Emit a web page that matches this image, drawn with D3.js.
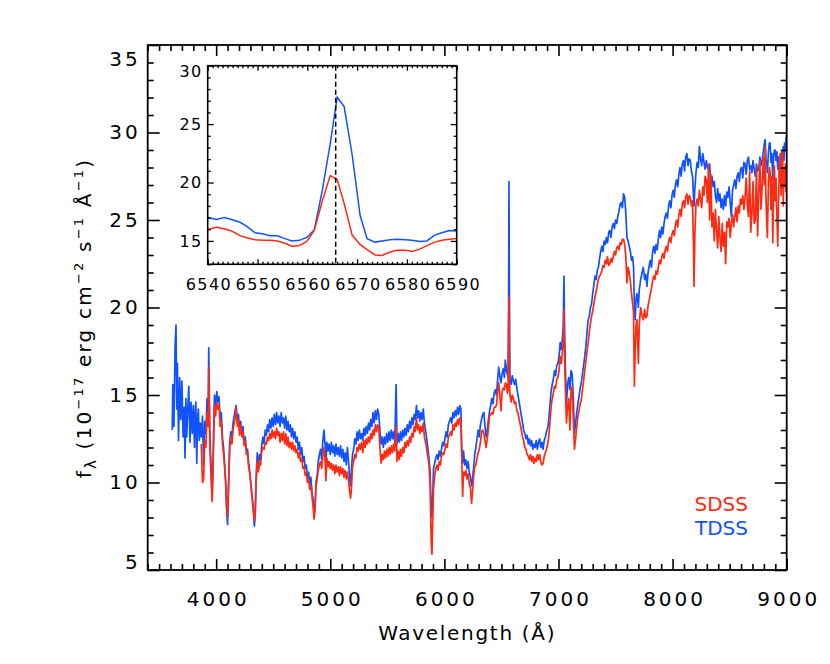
<!DOCTYPE html>
<html>
<head>
<meta charset="utf-8">
<script src="https://cdn.jsdelivr.net/npm/d3@7"></script>
<style>
  body { margin: 0; background: #fff; }
  svg text { font-family: "DejaVu Sans", sans-serif; fill: #000; }
</style>
</head>
<body>
<div id="chart"></div>
<script>
// Wavelength grid (Angstrom) shared by both spectra
const wave = [
  3615,3620,3630,3640,3648,3655,3660,3670,3680,3690,
  3700,3710,3720,3727,3735,3742,3750,3760,3770,3780,
  3790,3800,3810,3815,3822,3830,3837,3844,3852,3860,
  3870,3880,3890,3900,3910,3920,3930,3935,3945,3955,
  3965,3975,3985,3995,4005,4015,4025,4035,4045,4055,
  4065,4075,4085,4092,4100,4108,4118,4128,4138,4148,
  4158,4168,4175,4185,4195,4205,4215,4225,4235,4245,
  4255,4265,4275,4285,4295,4305,4315,4325,4335,4342,
  4350,4360,4370,4380,4390,4400,4410,4420,4430,4440,
  4450,4460,4470,4480,4490,4500,4510,4520,4530,4540,
  4550,4560,4570,4580,4590,4600,4610,4620,4630,4640,
  4650,4660,4670,4680,4690,4700,4710,4720,4730,4740,
  4750,4760,4770,4780,4790,4800,4810,4820,4830,4840,
  4850,4858,4866,4875,4885,4895,4905,4915,4925,4935,
  4945,4955,4962,4970,4980,4990,5000,5010,5020,5030,
  5040,5050,5060,5070,5080,5090,5100,5110,5120,5130,
  5140,5150,5160,5168,5178,5186,5195,5205,5215,5225,
  5235,5245,5255,5265,5275,5285,5295,5305,5315,5325,
  5335,5345,5355,5365,5375,5385,5395,5405,5415,5425,
  5435,5445,5455,5465,5475,5485,5495,5505,5515,5525,
  5535,5545,5555,5565,5577,5585,5595,5605,5615,5625,
  5635,5645,5655,5665,5675,5685,5695,5705,5715,5725,
  5735,5745,5755,5765,5775,5785,5795,5805,5815,5825,
  5835,5845,5855,5865,5875,5885,5891,5897,5905,5915,
  5925,5935,5945,5955,5965,5975,5985,5995,6005,6015,
  6025,6035,6045,6055,6065,6075,6085,6095,6105,6115,
  6125,6135,6145,6152,6160,6168,6178,6188,6198,6208,
  6218,6228,6238,6246,6256,6266,6276,6286,6296,6306,
  6316,6326,6336,6346,6356,6366,6376,6386,6396,6406,
  6416,6426,6436,6446,6456,6466,6476,6486,6496,6506,
  6516,6526,6534,6544,6552,6558,6563,6566,6569,6575,
  6585,6595,6605,6615,6625,6635,6645,6655,6665,6675,
  6685,6695,6705,6715,6725,6735,6745,6755,6765,6775,
  6785,6795,6805,6815,6825,6835,6845,6855,6865,6875,
  6885,6895,6905,6915,6925,6935,6945,6955,6965,6975,
  6985,6995,7005,7015,7025,7035,7042,7048,7054,7062,
  7070,7080,7090,7100,7110,7120,7130,7140,7150,7160,
  7170,7180,7190,7200,7210,7220,7230,7240,7250,7260,
  7270,7280,7290,7300,7310,7320,7330,7340,7350,7360,
  7370,7380,7390,7400,7410,7420,7430,7440,7450,7460,
  7470,7480,7490,7500,7510,7520,7530,7540,7550,7560,
  7570,7580,7590,7600,7610,7620,7630,7640,7650,7658,
  7665,7672,7680,7688,7695,7700,7708,7720,7730,7743,
  7755,7765,7775,7785,7795,7805,7815,7825,7835,7845,
  7855,7865,7875,7885,7895,7905,7915,7925,7935,7945,
  7955,7965,7975,7985,7995,8005,8015,8025,8035,8045,
  8055,8065,8075,8085,8095,8105,8115,8125,8135,8145,
  8155,8165,8175,8183,8188,8195,8205,8215,8225,8235,
  8245,8255,8265,8275,8285,8295,8305,8315,8325,8335,
  8345,8355,8365,8375,8385,8395,8405,8415,8425,8435,
  8445,8455,8465,8475,8485,8495,8505,8515,8525,8535,
  8545,8555,8565,8575,8585,8595,8605,8615,8625,8635,
  8645,8655,8665,8675,8685,8695,8705,8715,8725,8735,
  8745,8755,8765,8775,8785,8795,8805,8811,8818,8825,
  8831,8840,8848,8855,8862,8870,8878,8885,8892,8899,
  8906,8914,8922,8930,8937,8943,8950,8957,8964,8970,
  8976,8981,8988,8994,9000
];

// TDSS flux, 1e-17 erg/cm2/s/A
const tdssFlux = [
  13.0,15.6,13.2,17.8,19.0,14.2,16.8,12.4,16.0,13.6,
  15.8,12.6,14.3,11.4,14.8,12.6,14.0,15.5,12.3,14.6,
  12.8,14.4,12.0,13.8,14.6,11.1,13.6,14.2,12.4,13.4,
  12.6,13.8,11.0,13.5,12.8,14.8,13.6,17.7,12.5,11.0,
  9.0,12.0,15.0,14.3,15.2,14.6,14.9,13.6,14.0,12.6,
  12.0,11.0,9.8,8.4,7.6,9.6,12.2,12.9,12.6,13.4,
  13.8,14.2,14.4,13.5,13.9,13.0,13.5,12.8,13.2,12.3,
  12.6,11.8,11.9,11.0,10.6,9.8,9.2,8.6,7.5,8.2,
  10.2,11.7,10.8,11.6,11.3,12.2,12.6,12.2,13.0,12.7,
  13.3,12.9,13.6,13.1,13.7,13.2,13.9,13.3,14.0,13.4,
  13.8,13.2,14.0,13.4,13.7,13.1,13.8,13.0,13.5,12.9,
  13.3,12.6,13.1,12.5,12.9,12.3,12.6,11.9,12.3,11.6,
  12.0,11.2,11.5,10.8,11.0,10.3,10.6,9.9,10.3,9.4,
  9.0,8.2,8.6,10.0,10.4,11.2,11.6,11.9,11.3,12.4,
  13.0,12.1,11.0,12.3,11.8,12.2,11.6,12.3,11.7,12.1,
  11.5,12.2,11.6,12.0,11.5,12.1,11.4,11.9,11.2,11.7,
  11.0,12.0,11.2,10.4,9.8,10.8,11.6,11.9,12.5,12.2,
  12.9,12.4,13.0,12.5,12.8,12.4,13.1,12.7,13.2,12.8,
  13.4,13.0,13.6,13.2,14.0,13.4,14.1,13.6,14.2,13.9,
  13.0,12.2,12.6,12.0,12.6,12.2,12.8,12.3,12.9,12.4,
  13.0,12.5,12.9,12.3,15.6,12.2,12.8,12.3,12.9,12.4,
  13.0,12.6,13.1,12.7,13.3,12.9,13.5,13.1,13.7,13.3,
  13.9,13.6,14.4,13.7,14.1,13.5,14.0,13.6,14.2,13.4,
  13.0,12.5,12.0,11.4,10.6,8.4,8.0,9.0,10.8,11.1,
  11.4,11.6,11.3,11.8,11.5,11.9,12.3,12.1,12.5,12.9,
  12.6,13.3,13.5,13.7,13.4,14.0,13.7,14.1,13.8,14.3,
  13.9,14.4,14.2,12.0,11.1,11.8,11.0,11.3,10.8,11.2,
  10.6,10.3,9.8,10.2,10.8,11.6,12.0,12.5,13.0,12.6,
  13.3,13.6,13.9,14.0,13.2,12.6,13.0,13.6,14.1,14.4,
  14.8,14.5,15.1,15.3,15.0,15.8,16.6,16.1,15.7,16.2,
  16.5,16.0,17.0,16.4,16.2,16.0,20.0,27.2,22.0,15.9,
  15.6,16.1,15.8,15.6,15.9,15.4,15.0,14.6,14.2,13.8,
  13.4,13.0,12.8,12.5,12.7,12.2,12.5,12.1,12.4,11.9,
  12.2,12.0,12.4,11.9,12.3,12.5,12.0,12.3,11.9,12.4,
  12.6,12.9,13.1,13.6,14.4,15.2,15.6,15.9,16.4,16.1,
  16.7,16.8,17.2,18.0,17.6,18.3,19.0,21.8,18.5,16.2,
  14.5,15.6,16.0,15.3,16.4,16.2,14.8,12.8,13.4,14.0,
  14.5,14.9,15.4,15.7,16.2,16.7,17.2,17.8,18.6,19.3,
  19.5,20.0,20.2,20.8,21.3,21.8,21.6,22.1,22.3,22.8,
  23.2,23.5,23.2,23.8,23.6,24.0,23.7,24.3,24.4,24.0,
  24.6,24.8,24.5,25.0,24.8,25.2,25.5,25.9,26.0,25.7,
  26.5,26.3,25.4,24.0,23.8,23.5,23.2,22.7,22.9,22.3,
  20.0,19.3,20.5,20.8,20.4,20.0,21.0,21.6,21.9,22.3,
  21.6,21.9,21.2,22.0,22.4,22.7,22.3,23.2,23.5,23.1,
  23.6,23.3,23.9,24.4,24.0,24.6,24.2,24.8,25.2,25.4,
  25.1,25.8,26.1,25.7,26.4,26.7,26.3,27.0,27.3,26.9,
  27.6,28.0,27.5,28.2,28.4,27.8,28.6,28.8,28.1,28.5,
  28.4,27.8,27.5,26.4,25.8,26.8,27.7,28.3,28.0,29.2,
  28.5,28.1,28.8,28.3,27.9,28.4,28.0,27.9,28.2,27.0,
  27.5,26.9,27.2,26.4,26.0,26.8,26.1,26.5,25.7,26.2,
  25.6,26.4,25.8,26.6,26.3,26.9,26.0,25.2,26.7,27.0,
  27.3,26.8,27.5,27.7,27.2,27.9,28.0,27.4,28.3,28.2,
  27.6,28.4,28.6,27.9,28.1,27.7,28.4,27.9,27.5,28.2,
  27.8,27.9,28.6,28.1,28.4,28.9,29.4,29.6,28.5,28.2,
  27.7,28.9,29.4,29.4,28.3,28.8,27.3,28.6,29.0,29.0,
  28.4,28.9,27.9,28.6,27.5,27.5,28.3,28.9,28.8,29.2,
  28.4,29.4,29.0,29.6,29.9
];

// SDSS flux (no coverage below ~3865 A)
const sdssFlux = [
  null,null,null,null,null,null,null,null,null,null,
  null,null,null,null,null,null,null,null,null,null,
  null,null,null,null,null,null,null,null,null,null,
  12.2,10.0,10.2,12.4,12.0,14.0,13.2,16.6,12.0,10.4,
  8.9,11.6,14.4,13.8,14.6,14.2,14.4,13.2,13.5,12.2,
  11.6,10.8,9.8,8.6,8.0,9.8,11.8,12.6,12.2,13.0,
  13.4,13.8,14.3,13.2,13.6,12.7,13.3,12.6,12.9,12.1,
  12.4,11.6,11.7,10.9,10.5,9.9,9.1,8.4,7.8,8.2,
  10.0,11.3,10.6,11.1,11.0,11.8,12.0,11.9,12.3,12.2,
  12.6,12.4,12.8,12.5,13.0,12.6,12.9,12.5,13.1,12.7,
  12.9,12.3,12.8,12.4,12.9,12.2,12.8,12.1,12.6,12.0,
  12.3,11.9,12.3,11.8,12.1,11.7,11.9,11.4,11.7,11.2,
  11.4,10.8,10.9,10.4,10.6,10.0,10.2,9.6,9.8,9.2,
  8.6,7.9,8.4,9.8,10.2,10.7,11.0,11.2,10.8,11.5,
  12.0,11.3,10.1,11.4,10.9,11.2,10.8,11.1,10.7,11.0,
  10.5,11.0,10.6,10.9,10.4,10.9,10.5,10.8,10.3,10.7,
  10.2,10.6,10.1,9.6,9.1,9.7,10.9,11.2,11.6,11.4,
  12.0,11.8,12.2,11.9,12.3,11.7,12.4,12.0,12.5,12.2,
  12.6,12.3,12.8,12.5,13.0,12.7,13.3,12.9,13.3,13.1,
  12.0,11.1,11.6,11.3,11.8,11.4,11.9,11.5,12.0,11.6,
  12.1,11.7,12.2,11.8,13.2,11.2,11.8,11.3,11.9,11.5,
  12.0,11.7,12.3,12.0,12.4,12.1,12.6,12.3,12.8,12.6,
  13.2,12.9,13.7,13.0,13.3,12.8,13.2,12.9,13.4,12.6,
  12.3,11.9,11.5,11.0,9.8,6.5,5.9,7.6,9.6,10.4,
  10.8,11.0,10.7,11.2,11.0,11.5,11.7,11.6,11.9,12.2,
  12.0,12.6,12.7,12.9,12.7,13.3,13.0,13.4,13.2,13.6,
  13.3,13.7,13.5,11.5,9.2,10.6,10.4,10.7,10.2,10.5,
  9.9,9.7,8.8,9.4,10.3,10.9,11.0,11.4,11.7,11.9,
  12.3,12.9,13.0,12.8,12.4,12.0,12.5,13.1,13.8,13.9,
  14.0,13.9,14.3,14.3,14.4,15.1,15.7,15.0,14.1,15.2,
  15.4,15.3,15.7,15.6,15.1,15.3,18.5,20.6,15.8,15.0,
  14.6,15.0,14.8,14.5,14.6,14.1,14.0,13.6,13.3,13.0,
  12.6,12.4,12.0,11.9,11.6,11.5,11.3,11.6,11.2,11.5,
  11.1,11.4,11.2,11.6,11.3,11.6,11.2,11.0,11.1,11.5,
  11.7,11.9,12.2,12.6,13.4,14.3,14.8,15.1,15.5,15.4,
  15.9,16.0,16.4,17.2,16.8,17.5,18.0,19.9,17.0,15.0,
  13.4,14.4,14.8,13.0,15.2,15.5,13.6,11.9,12.5,13.2,
  13.8,14.1,14.5,14.7,15.3,15.8,16.4,16.9,17.5,18.0,
  18.6,19.1,19.5,19.8,20.2,20.6,20.9,21.3,21.6,21.8,
  21.9,22.1,22.4,22.3,22.7,22.5,22.9,22.4,22.5,22.8,
  22.6,22.9,23.2,23.0,23.4,23.5,23.3,23.7,23.6,23.9,
  23.9,23.6,22.9,21.4,22.3,22.0,21.5,20.8,20.2,19.7,
  15.5,17.5,19.0,19.3,17.8,16.8,19.0,20.0,19.6,19.3,
  19.9,19.4,19.5,20.1,20.4,20.8,21.1,21.5,21.8,21.6,
  22.1,21.9,22.3,22.7,22.5,22.9,23.1,22.8,23.3,23.5,
  23.2,23.8,24.0,23.7,24.2,24.4,24.1,24.7,25.0,24.6,
  25.3,25.6,25.2,25.9,26.1,25.7,26.3,26.5,25.9,26.4,
  26.3,25.8,26.1,23.5,21.2,24.2,25.9,26.2,25.8,26.7,
  26.2,25.7,26.9,26.4,27.5,27.3,26.0,28.2,25.0,27.6,
  24.6,25.4,23.8,25.6,24.4,23.4,25.2,24.0,23.2,24.8,
  23.5,24.3,22.5,24.9,24.6,25.1,24.0,24.8,25.3,24.6,
  25.2,25.7,24.9,25.8,25.4,26.2,25.9,26.4,25.6,26.3,
  27.4,25.8,25.2,27.8,24.3,25.4,27.2,24.8,25.0,28.0,
  24.1,26.5,28.4,25.6,26.9,28.6,27.0,29.2,26.4,24.8,
  24.0,27.2,28.0,27.7,25.6,27.5,23.7,26.8,28.1,26.1,
  27.4,25.2,23.5,26.6,28.3,28.8,26.4,27.5,29.0,25.8,
  27.9,26.9,28.2,26.6,27.3
];

// Inset: H-alpha region
const insetWave = [
  6540.0,6541.8,6543.3,6544.8,6546.5,6548.0,6549.5,6551.2,6552.5,6554.0,
  6555.5,6556.9,6558.4,6559.9,6561.4,6563.0,6564.6,6566.0,6567.4,6569.0,
  6570.6,6572.0,6573.6,6575.0,6576.6,6578.0,6579.7,6581.0,6582.6,6584.0,
  6585.6,6587.0,6588.6,6590.0
];
const insetTdss = [
  17.0,16.84,17.0,16.84,16.6,16.2,15.7,15.6,15.45,15.45,
  15.2,15.0,15.05,15.3,15.95,19.3,23.3,27.3,26.5,22.4,
  17.2,15.2,14.9,15.0,15.1,15.15,15.1,15.05,14.95,15.0,
  15.5,15.7,15.9,15.85
];
const insetSdss = [
  15.98,16.18,16.05,15.85,15.45,15.25,15.1,15.05,15.05,15.0,
  14.8,14.55,14.6,14.95,15.9,18.4,20.6,20.25,18.2,15.5,
  14.7,14.25,13.8,13.75,14.05,14.2,14.2,14.1,14.3,14.6,
  14.9,15.05,15.15,15.2
];
const haLine = 6565.7;

// Axis ticks
const xMajor = [4000, 5000, 6000, 7000, 8000, 9000];
const yMajor = [5, 10, 15, 20, 25, 30, 35];
const xiMajor = [6540, 6550, 6560, 6570, 6580, 6590];
const yiMajor = [15, 20, 25, 30];

const legendNames = ["SDSS", "TDSS"];
const red = "#ff2a12", blue = "#1152ff";

if (wave.length !== tdssFlux.length || wave.length !== sdssFlux.length) {
  console.error("length mismatch", wave.length, tdssFlux.length, sdssFlux.length);
}

const W = 830, H = 664;
const svg = d3.select("#chart").append("svg")
    .attr("width", W).attr("height", H)
    .style("background", "#fff");

// main panel
const L = 147.7, R = 786.7, T = 45, B = 570;
const x = d3.scaleLinear().domain([3400, 9000]).range([L, R]);
const y = d3.scaleLinear().domain([5, 35]).range([B, T]);

svg.append("clipPath").attr("id", "clipMain")
  .append("rect").attr("x", L).attr("y", T).attr("width", R - L).attr("height", B - T);

const tdss = wave.map((w, i) => ({ w: w, f: tdssFlux[i] }));
const sdss = wave.map((w, i) => ({ w: w, f: sdssFlux[i] }));

const line = d3.line()
    .defined(d => d.f != null)
    .x(d => x(d.w))
    .y(d => y(d.f));

const plot = svg.append("g").attr("clip-path", "url(#clipMain)");
plot.append("path").datum(tdss)
    .attr("d", line).attr("fill", "none")
    .attr("stroke", blue).attr("stroke-width", 1.7).attr("stroke-linejoin", "round");
plot.append("path").datum(sdss)
    .attr("d", line).attr("fill", "none")
    .attr("stroke", red).attr("stroke-width", 1.7).attr("stroke-linejoin", "round");

// helper for boxed axes with inward ticks
function minorTicks(domain, step, majors) {
  const out = [];
  for (let v = Math.ceil(domain[0] / step) * step; v <= domain[1] + 1e-9; v += step) {
    const r = Math.round(v * 1000) / 1000;
    if (!majors.some(m => Math.abs(m - r) < 1e-6)) out.push(r);
  }
  return out;
}

function drawBox(g, xs, ys, opt) {
  const [x0, x1] = xs.range(), [y0, y1] = ys.range(); // y0 bottom
  const xMin = minorTicks(xs.domain(), opt.xStep, opt.xMaj);
  const yMin = minorTicks(ys.domain(), opt.yStep, opt.yMaj);
  const clean = s => s.call(a => a.select(".domain").remove())
      .call(a => a.selectAll("line").attr("stroke", "#000").attr("stroke-width", opt.tw));

  // bottom
  g.append("g").attr("transform", `translate(0,${y0})`)
    .call(d3.axisBottom(xs).tickValues(xMin).tickSize(-opt.xMinLen).tickFormat(""))
    .call(clean);
  g.append("g").attr("class", "xlab").attr("transform", `translate(0,${y0})`)
    .call(d3.axisBottom(xs).tickValues(opt.xMaj).tickSize(-opt.xMajLen)
      .tickPadding(opt.xPad).tickFormat(d3.format("d")))
    .call(clean);
  // top
  g.append("g").attr("transform", `translate(0,${y1})`)
    .call(d3.axisTop(xs).tickValues(xMin).tickSize(-opt.xMinLen).tickFormat(""))
    .call(clean);
  g.append("g").attr("transform", `translate(0,${y1})`)
    .call(d3.axisTop(xs).tickValues(opt.xMaj).tickSize(-opt.xMajLen).tickFormat(""))
    .call(clean);
  // left
  g.append("g").attr("transform", `translate(${x0},0)`)
    .call(d3.axisLeft(ys).tickValues(yMin).tickSize(-opt.yMinLen).tickFormat(""))
    .call(clean);
  g.append("g").attr("class", "ylab").attr("transform", `translate(${x0},0)`)
    .call(d3.axisLeft(ys).tickValues(opt.yMaj).tickSize(-opt.yMajLen)
      .tickPadding(opt.yPad).tickFormat(d3.format("d")))
    .call(clean);
  // right
  g.append("g").attr("transform", `translate(${x1},0)`)
    .call(d3.axisRight(ys).tickValues(yMin).tickSize(-opt.yMinLen).tickFormat(""))
    .call(clean);
  g.append("g").attr("transform", `translate(${x1},0)`)
    .call(d3.axisRight(ys).tickValues(opt.yMaj).tickSize(-opt.yMajLen).tickFormat(""))
    .call(clean);

  g.selectAll(".xlab text, .ylab text")
    .attr("font-family", "DejaVu Sans").attr("font-size", opt.fs)
    .attr("letter-spacing", opt.ls).attr("fill", "#000");
  g.selectAll(".xlab text").attr("dx", opt.ls / 2);

  g.append("rect")
    .attr("x", x0).attr("y", y1).attr("width", x1 - x0).attr("height", y0 - y1)
    .attr("fill", "none").attr("stroke", "#000").attr("stroke-width", opt.fw);
}

const mainAxes = svg.append("g");
drawBox(mainAxes, x, y, {
  xStep: 100, yStep: 1, xMaj: xMajor, yMaj: yMajor,
  xMajLen: 11, xMinLen: 6, yMajLen: 12, yMinLen: 6,
  xPad: 22, yPad: 7, fs: 20, ls: 3, tw: 1.6, fw: 1.8
});
// IDL keeps the end labels inside the axis range
mainAxes.selectAll(".ylab .tick text")
  .attr("dy", d => d === 35 ? "1.0em" : d === 5 ? "-0.08em" : "0.32em");

// inset
const iL = 207.7, iR = 456.7, iT = 65.7, iB = 264.3;
const xi = d3.scaleLinear().domain([6540, 6590]).range([iL, iR]);
const yi = d3.scaleLinear().domain([13, 30]).range([iB, iT]);

const inset = svg.append("g");
inset.append("rect").attr("x", iL).attr("y", iT)
  .attr("width", iR - iL).attr("height", iB - iT).attr("fill", "#fff");

const iLine = d3.line().x(d => xi(d.w)).y(d => yi(d.f));
inset.append("path")
  .datum(insetWave.map((w, i) => ({ w: w, f: insetTdss[i] })))
  .attr("d", iLine).attr("fill", "none").attr("stroke", blue).attr("stroke-width", 1.5);
inset.append("path")
  .datum(insetWave.map((w, i) => ({ w: w, f: insetSdss[i] })))
  .attr("d", iLine).attr("fill", "none").attr("stroke", red).attr("stroke-width", 1.5);

inset.append("line")
  .attr("x1", xi(haLine)).attr("x2", xi(haLine))
  .attr("y1", iT).attr("y2", iB)
  .attr("stroke", "#000").attr("stroke-width", 1.5)
  .attr("stroke-dasharray", "5,3");

drawBox(inset, xi, yi, {
  xStep: 1, yStep: 1, xMaj: xiMajor, yMaj: yiMajor,
  xMajLen: 5, xMinLen: 2.5, yMajLen: 6, yMinLen: 3,
  xPad: 14.5, yPad: 5, fs: 16, ls: 1.4, tw: 1.3, fw: 1.6
});
inset.selectAll(".ylab .tick text")
  .attr("dy", d => d === 30 ? "0.65em" : "0.32em");

// axis titles
svg.append("text")
  .attr("x", (L + R) / 2).attr("y", 640)
  .attr("text-anchor", "middle")
  .attr("font-size", 20).attr("letter-spacing", 1.7)
  .text("Wavelength (Å)");

const yt = svg.append("text")
  .attr("transform", "translate(91,318) rotate(-90)")
  .attr("text-anchor", "middle")
  .attr("font-size", 20).attr("letter-spacing", 2.2);
yt.append("tspan").text("f");
yt.append("tspan").attr("dy", 5).attr("font-size", 15).text("λ");
yt.append("tspan").attr("dy", -5).text(" (10");
yt.append("tspan").attr("dy", -8).attr("font-size", 13).text("−17");
yt.append("tspan").attr("dy", 8).text(" erg cm");
yt.append("tspan").attr("dy", -8).attr("font-size", 13).text("−2");
yt.append("tspan").attr("dy", 8).text(" s");
yt.append("tspan").attr("dy", -8).attr("font-size", 13).text("−1");
yt.append("tspan").attr("dy", 8).text(" Å");
yt.append("tspan").attr("dy", -8).attr("font-size", 13).text("−1");
yt.append("tspan").attr("dy", 8).text(")");

// legend
svg.selectAll(".legend")
  .data(legendNames)
  .enter().append("text")
    .attr("class", "legend")
    .attr("x", 748)
    .attr("y", (d, i) => 511 + i * 24)
    .attr("text-anchor", "end")
    .attr("font-size", 20)
    .style("fill", (d, i) => i === 0 ? red : blue)
    .text(d => d);
</script>
</body>
</html>
